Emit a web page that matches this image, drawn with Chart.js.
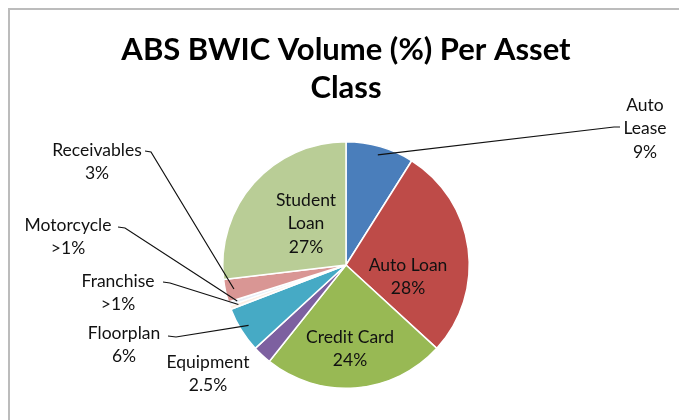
<!DOCTYPE html>
<html>
<head>
<meta charset="utf-8">
<script src="https://cdn.jsdelivr.net/npm/chart.js@4"></script>
<style>
  html, body { margin: 0; padding: 0; background: #fff; }
  #wrap { position: relative; width: 679px; height: 420px; overflow: hidden; }
  #frame { position: absolute; left: 8px; top: 8px; width: 700px; height: 430px;
           border-left: 2px solid #bcbcbc; border-top: 2px solid #bcbcbc; }
  #c { position: absolute; left: 0; top: 0; }
</style>
</head>
<body>
<div id="wrap">
  <div id="frame"></div>
  <canvas id="c" width="679" height="420"></canvas>
</div>
<script>
const categories = ['Auto Lease', 'Auto Loan', 'Credit Card', 'Equipment', 'Floorplan', 'Franchise', 'Motorcycle', 'Receivables', 'Student Loan'];
const volumes = [9, 28, 24, 2.5, 6, 0.5, 0.5, 3, 27];
const valueLabels = ['9%', '28%', '24%', '2.5%', '6%', '>1%', '>1%', '3%', '27%'];
const colors = ['#4a7ebb', '#be4b48', '#98b954', '#7d60a0', '#46aac5', '#fbeee4', '#eaf0f8', '#d99694', '#b9cd96'];

// where each label sits, and where its leader line leaves the text
const labelLayout = [
  { lines: ['Auto', 'Lease'], x: 645, y: 105, lead: [614, 127] },
  { lines: ['Auto Loan'], x: 408, y: 265 },
  { lines: ['Credit Card'], x: 350, y: 337 },
  { lines: ['Equipment'], x: 208, y: 362 },
  { lines: ['Floorplan'], x: 124, y: 333, lead: [176, 337], tail: 168 },
  { lines: ['Franchise'], x: 118, y: 281, lead: [170, 283], tail: 163 },
  { lines: ['Motorcycle'], x: 68, y: 225, lead: [125, 228], tail: 118 },
  { lines: ['Receivables'], x: 97, y: 150, lead: [151, 152], tail: 145 },
  { lines: ['Student', 'Loan'], x: 306, y: 200 }
];

const labelsPlugin = {
  id: 'outLabels',
  afterDatasetsDraw(chart) {
    const ctx = chart.ctx;
    const meta = chart.getDatasetMeta(0);
    ctx.save();
    // title
    ctx.fillStyle = '#000';
    ctx.textAlign = 'center';
    ctx.textBaseline = 'middle';
    ctx.font = 'bold 31px Lato, sans-serif';
    ctx.fillText('ABS BWIC Volume (%) Per Asset', 346, 50);
    ctx.fillText('Class', 346, 88);

    ctx.font = '17.5px Lato, sans-serif';
    ctx.strokeStyle = '#111';
    ctx.lineWidth = 1.2;
    meta.data.forEach((arc, i) => {
      const L = labelLayout[i];
      if (L.lead) {
        const mid = (arc.startAngle + arc.endAngle) / 2;
        const r = arc.outerRadius * 0.93;
        const px = arc.x + Math.cos(mid) * r;
        const py = arc.y + Math.sin(mid) * r;
        ctx.beginPath();
        if (L.tail !== undefined) {
          ctx.moveTo(L.tail, L.lead[1] - 1);
          ctx.lineTo(L.lead[0], L.lead[1]);
        } else {
          ctx.moveTo(L.lead[0] + 6, L.lead[1]);
          ctx.lineTo(L.lead[0], L.lead[1]);
        }
        ctx.lineTo(px, py);
        ctx.stroke();
      }
      ctx.fillStyle = '#111';
      const lines = L.lines.concat([valueLabels[i]]);
      lines.forEach((t, k) => ctx.fillText(t, L.x, L.y + k * 23.5));
    });
    ctx.restore();
  }
};

new Chart(document.getElementById('c'), {
  type: 'pie',
  data: {
    labels: categories,
    datasets: [{
      data: volumes,
      backgroundColor: colors,
      borderColor: '#ffffff',
      borderWidth: 1.5
    }]
  },
  options: {
    responsive: false,
    animation: false,
    layout: { padding: { left: 222, right: 209, top: 141, bottom: 31 } },
    plugins: {
      legend: { display: false },
      title: { display: false },
      tooltip: { enabled: false }
    }
  },
  plugins: [labelsPlugin]
});
</script>
</body>
</html>
